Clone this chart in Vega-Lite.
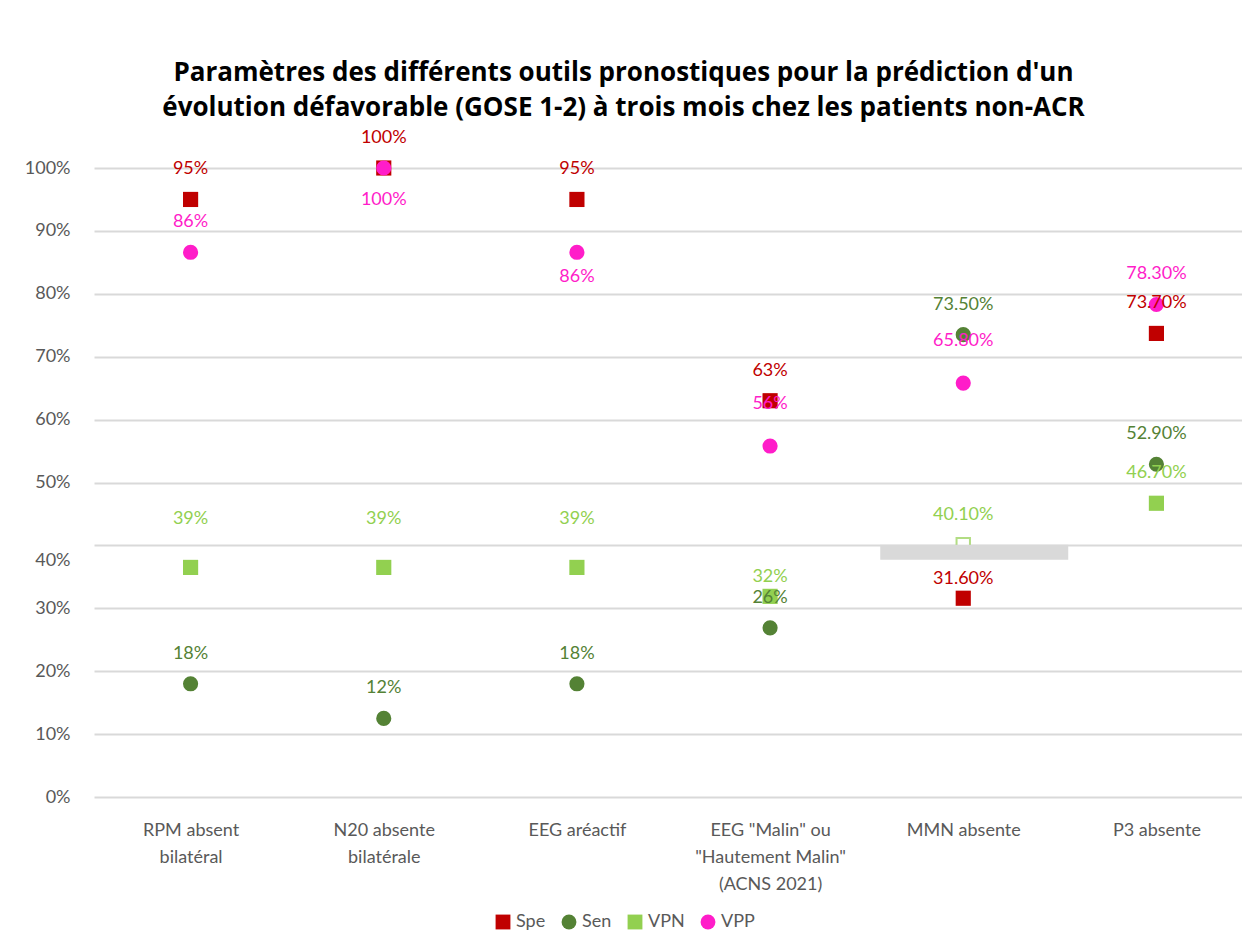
{
  "$schema": "https://vega.github.io/schema/vega-lite/v6.json",
  "autosize": "none",
  "width": 1159,
  "height": 629,
  "padding": {"left": 94, "top": 168, "right": -11, "bottom": 141},
  "background": "white",
  "title": {
    "text": ["Paramètres des différents outils pronostiques pour la prédiction d'un", "évolution défavorable (GOSE 1-2) à trois mois chez les patients non-ACR"],
    "font": "Open Sans",
    "fontSize": 26,
    "fontWeight": "bold",
    "color": "#000000",
    "lineHeight": 35,
    "anchor": "middle",
    "frame": "group",
    "dx": -50,
    "offset": 8
  },
  "config": {
    "view": {"stroke": null},
    "font": "Lato"
  },
  "datasets": {
    "pts": [
      {"categorie": "RPM absent\nbilatéral", "serie": "Spe", "valeur": 0.95, "label": "95%"},
      {"categorie": "RPM absent\nbilatéral", "serie": "Sen", "valeur": 0.18, "label": "18%"},
      {"categorie": "RPM absent\nbilatéral", "serie": "VPN", "valeur": 0.365, "label": "39%"},
      {"categorie": "RPM absent\nbilatéral", "serie": "VPP", "valeur": 0.866, "label": "86%"},
      {"categorie": "N20 absente\nbilatérale", "serie": "Spe", "valeur": 1.0, "label": "100%"},
      {"categorie": "N20 absente\nbilatérale", "serie": "Sen", "valeur": 0.125, "label": "12%"},
      {"categorie": "N20 absente\nbilatérale", "serie": "VPN", "valeur": 0.365, "label": "39%"},
      {"categorie": "N20 absente\nbilatérale", "serie": "VPP", "valeur": 1.0, "label": "100%"},
      {"categorie": "EEG aréactif", "serie": "Spe", "valeur": 0.95, "label": "95%"},
      {"categorie": "EEG aréactif", "serie": "Sen", "valeur": 0.18, "label": "18%"},
      {"categorie": "EEG aréactif", "serie": "VPN", "valeur": 0.365, "label": "39%"},
      {"categorie": "EEG aréactif", "serie": "VPP", "valeur": 0.866, "label": "86%"},
      {"categorie": "EEG \"Malin\" ou\n\"Hautement Malin\"\n(ACNS 2021)", "serie": "Spe", "valeur": 0.63, "label": "63%"},
      {"categorie": "EEG \"Malin\" ou\n\"Hautement Malin\"\n(ACNS 2021)", "serie": "Sen", "valeur": 0.269, "label": "26%"},
      {"categorie": "EEG \"Malin\" ou\n\"Hautement Malin\"\n(ACNS 2021)", "serie": "VPN", "valeur": 0.319, "label": "32%"},
      {"categorie": "EEG \"Malin\" ou\n\"Hautement Malin\"\n(ACNS 2021)", "serie": "VPP", "valeur": 0.558, "label": "56%"},
      {"categorie": "MMN absente", "serie": "Spe", "valeur": 0.316, "label": "31.60%"},
      {"categorie": "MMN absente", "serie": "Sen", "valeur": 0.735, "label": "73.50%"},
      {"categorie": "MMN absente", "serie": "VPN", "valeur": 0.401, "label": "40.10%"},
      {"categorie": "MMN absente", "serie": "VPP", "valeur": 0.658, "label": "65.80%"},
      {"categorie": "P3 absente", "serie": "Spe", "valeur": 0.737, "label": "73.70%"},
      {"categorie": "P3 absente", "serie": "Sen", "valeur": 0.529, "label": "52.90%"},
      {"categorie": "P3 absente", "serie": "VPN", "valeur": 0.467, "label": "46.70%"},
      {"categorie": "P3 absente", "serie": "VPP", "valeur": 0.783, "label": "78.30%"}
    ],
    "box": [
      {"categorie": "MMN absente", "bas": 0.377, "haut": 0.401}
    ]
  },
  "data": {"name": "pts"},
  "encoding": {
    "x": {
      "field": "categorie",
      "type": "nominal",
      "sort": null,
      "scale": {"type": "point", "padding": 0.5},
      "axis": {
        "title": null,
        "domain": false,
        "ticks": false,
        "grid": false,
        "labelAngle": 0,
        "labelFont": "Lato",
        "labelFontSize": 18,
        "labelColor": "#595959",
        "labelPadding": 24,
        "labelLineHeight": 27,
        "labelExpr": "split(datum.label, '\\n')"
      }
    },
    "y": {
      "field": "valeur",
      "type": "quantitative",
      "scale": {"domain": [0, 1], "nice": false},
      "axis": {
        "title": null,
        "format": ".0%",
        "values": [0, 0.1, 0.2, 0.3, 0.4, 0.5, 0.6, 0.7, 0.8, 0.9, 1.0],
        "domain": false,
        "ticks": false,
        "gridColor": "#d9d9d9",
        "gridWidth": 2,
        "labelFont": "Lato",
        "labelFontSize": 18,
        "labelColor": "#595959",
        "labelPadding": 24,
        "labelOffset": {"condition": {"test": "datum.value == 0.4", "value": 15}, "value": 0}
      }
    }
  },
  "layer": [
    {
      "transform": [{"filter": "!(datum.serie == 'VPN' && datum.categorie == 'MMN absente')"}],
      "mark": {"type": "point", "filled": true, "opacity": 1, "strokeWidth": 0},
      "encoding": {
        "color": {
          "field": "serie",
          "type": "nominal",
          "scale": {"domain": ["Spe", "Sen", "VPN", "VPP"], "range": ["#C00000", "#548235", "#92D050", "#FF1DC9"]},
          "legend": {
            "title": null,
            "orient": "none",
            "direction": "horizontal",
            "legendX": 400,
            "legendY": 745,
            "labelFont": "Lato",
            "labelFontSize": 18,
            "labelColor": "#595959",
            "symbolSize": 220,
            "symbolStrokeWidth": 0,
            "symbolOpacity": 1,
            "columnPadding": 14,
            "labelOffset": 4
          }
        },
        "shape": {
          "field": "serie",
          "type": "nominal",
          "scale": {"domain": ["Spe", "Sen", "VPN", "VPP"], "range": ["square", "circle", "square", "circle"]},
          "legend": {
            "title": null,
            "orient": "none",
            "direction": "horizontal",
            "legendX": 400,
            "legendY": 745,
            "labelFont": "Lato",
            "labelFontSize": 18,
            "labelColor": "#595959",
            "symbolSize": 220,
            "columnPadding": 14,
            "labelOffset": 4
          }
        },
        "size": {"value": 230},
        "order": {"field": "serie", "sort": "ascending"}
      }
    },
    {
      "transform": [{"filter": "datum.serie == 'VPN' && datum.categorie == 'MMN absente'"}],
      "mark": {"type": "square", "filled": false, "fill": "white", "stroke": "#92D050", "strokeWidth": 2, "size": 180}
    },
    {
      "data": {"name": "box"},
      "mark": {"type": "rect", "color": "#d9d9d9", "width": 188, "xOffset": 11},
      "encoding": {
        "x": {"field": "categorie", "type": "nominal"},
        "y": {"field": "bas", "type": "quantitative"},
        "y2": {"field": "haut"}
      }
    },
    {
      "transform": [{"filter": "!((datum.serie == 'VPN' && (datum.categorie == 'RPM absent\\nbilatéral' || datum.categorie == 'N20 absente\\nbilatérale' || datum.categorie == 'EEG aréactif')) || (datum.serie == 'VPP' && (datum.categorie == 'N20 absente\\nbilatérale' || datum.categorie == 'EEG aréactif' || datum.categorie == 'MMN absente' || indexof(datum.categorie, 'Malin') >= 0)) || (datum.serie == 'Spe' && datum.categorie == 'MMN absente') || (datum.serie == 'VPN' && indexof(datum.categorie, 'Malin') >= 0))"}],
      "mark": {"type": "text", "font": "Lato", "fontSize": 18, "dy": -30},
      "encoding": {
        "text": {"field": "label"},
        "color": {"field": "serie", "type": "nominal", "scale": {"domain": ["Spe", "Sen", "VPN", "VPP"], "range": ["#C00000", "#375623", "#92D050", "#FF1DC9"]}, "legend": null}
      }
    },
    {
      "transform": [{"filter": "datum.serie == 'VPN' && (datum.categorie == 'RPM absent\\nbilatéral' || datum.categorie == 'N20 absente\\nbilatérale' || datum.categorie == 'EEG aréactif')"}],
      "mark": {"type": "text", "font": "Lato", "fontSize": 18, "dy": -48, "color": "#92D050"},
      "encoding": {"text": {"field": "label"}}
    },
    {
      "transform": [{"filter": "datum.serie == 'VPP' && datum.categorie == 'N20 absente\\nbilatérale'"}],
      "mark": {"type": "text", "font": "Lato", "fontSize": 18, "dy": 32, "color": "#FF1DC9"},
      "encoding": {"text": {"field": "label"}}
    },
    {
      "transform": [{"filter": "datum.serie == 'VPP' && datum.categorie == 'EEG aréactif'"}],
      "mark": {"type": "text", "font": "Lato", "fontSize": 18, "dy": 25, "color": "#FF1DC9"},
      "encoding": {"text": {"field": "label"}}
    },
    {
      "transform": [{"filter": "datum.serie == 'VPP' && (datum.categorie == 'MMN absente' || indexof(datum.categorie, 'Malin') >= 0)"}],
      "mark": {"type": "text", "font": "Lato", "fontSize": 18, "dy": -42, "color": "#FF1DC9"},
      "encoding": {"text": {"field": "label"}}
    },
    {
      "transform": [{"filter": "datum.serie == 'Spe' && datum.categorie == 'MMN absente'"}],
      "mark": {"type": "text", "font": "Lato", "fontSize": 18, "dy": -19, "color": "#C00000"},
      "encoding": {"text": {"field": "label"}}
    },
    {
      "transform": [{"filter": "datum.serie == 'VPN' && indexof(datum.categorie, 'Malin') >= 0"}],
      "mark": {"type": "text", "font": "Lato", "fontSize": 18, "dy": -19, "color": "#92D050"},
      "encoding": {"text": {"field": "label"}}
    }
  ]
}
